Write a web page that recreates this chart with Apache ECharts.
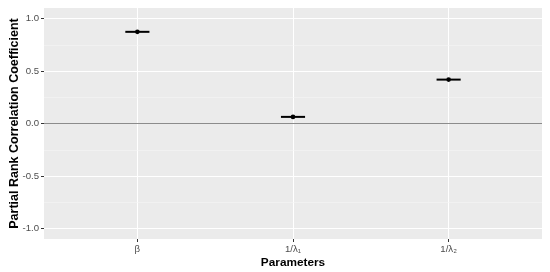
<!DOCTYPE html>
<html><head><meta charset="utf-8">
<script src="https://cdn.jsdelivr.net/npm/echarts@6/dist/echarts.min.js"></script>
<style>html,body{margin:0;padding:0;background:#fff}#c{width:550px;height:272px}</style>
</head><body><div id="c"></div>
<script>
const categories = ['β', '1/λ₁', '1/λ₂'];
const prcc = [0.873, 0.063, 0.418];
const yTicks = [-1, -0.5, 0, 0.5, 1];
const yMinor = [-0.75, -0.25, 0.25, 0.75];
const xPositions = [1, 2, 3];

const chart = echarts.init(document.getElementById('c'));
const font = '"Liberation Sans", Arial, sans-serif';
chart.setOption({
  animation: false,
  backgroundColor: '#fff',
  grid: {left: 44, right: 8, top: 8, bottom: 33, show: true, backgroundColor: '#EBEBEB', borderWidth: 0,
    containLabel: false, outerBoundsMode: 'none'},
  xAxis: {
    type: 'value', min: 0.4, max: 3.6,
    name: 'Parameters', nameLocation: 'middle', nameGap: 18, nameMoveOverlap: false,
    nameTextStyle: {fontFamily: font, fontWeight: 'bold', fontSize: 11.8, color: '#000'},
    axisLine: {show: false, onZero: false},
    axisTick: {show: true, length: 3, lineStyle: {color: '#333', width: 1}, customValues: xPositions},
    axisLabel: {customValues: xPositions, margin: 5, fontFamily: font, fontSize: 9.6, color: '#4D4D4D',
      formatter: v => categories[Math.round(v) - 1] || ''},
    splitLine: {show: true, lineStyle: {color: '#fff', width: 1.1}}
  },
  yAxis: {
    type: 'value', min: -1.1, max: 1.1,
    name: 'Partial Rank Correlation Coefficient', nameLocation: 'middle', nameGap: 23, nameMoveOverlap: false,
    nameTextStyle: {fontFamily: font, fontWeight: 'bold', fontSize: 12.5, color: '#000'},
    axisLine: {show: false, onZero: false},
    axisTick: {show: true, length: 3, lineStyle: {color: '#333', width: 1}, customValues: yTicks},
    axisLabel: {customValues: yTicks, margin: 5, fontFamily: font, fontSize: 9.6, color: '#4D4D4D',
      formatter: v => v.toFixed(1)},
    splitLine: {show: true, lineStyle: {color: '#fff', width: 1.1}}
  },
  series: [
    {
      type: 'line', data: [], silent: true,
      markLine: {
        silent: true, symbol: 'none', animation: false,
        label: {show: false},
        data: yMinor.map(v => ({yAxis: v, lineStyle: {color: '#F5F5F5', width: 0.6, type: 'solid'}}))
          .concat([{yAxis: 0, lineStyle: {color: '#8C8C8C', width: 1, type: 'solid'}}])
      }
    },
    {
      type: 'custom',
      data: prcc.map((v, i) => [xPositions[i], v]),
      renderItem: (params, api) => {
        const p = api.coord([api.value(0), api.value(1)]);
        const hw = api.size([0.155, 0])[0] / 2;
        return {type: 'group', children: [
          {type: 'line', shape: {x1: p[0] - hw, y1: p[1], x2: p[0] + hw, y2: p[1]},
            style: {stroke: '#000', lineWidth: 2}},
          {type: 'circle', shape: {cx: p[0], cy: p[1], r: 2.3}, style: {fill: '#000'}}
        ]};
      }
    }
  ]
});
</script></body></html>
